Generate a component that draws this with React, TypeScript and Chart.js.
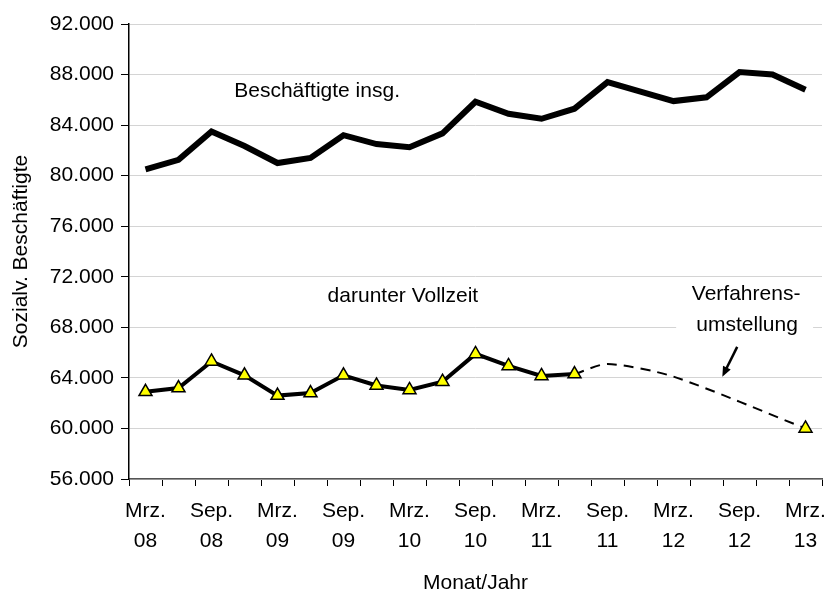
import React, { useEffect, useRef } from "react";
import { Chart, registerables } from "chart.js";

Chart.register(...registerables);

const categories = [
  "Mrz. 08", "Jun. 08", "Sep. 08", "Dez. 08",
  "Mrz. 09", "Jun. 09", "Sep. 09", "Dez. 09",
  "Mrz. 10", "Jun. 10", "Sep. 10", "Dez. 10",
  "Mrz. 11", "Jun. 11", "Sep. 11", "Dez. 11",
  "Mrz. 12", "Jun. 12", "Sep. 12", "Dez. 12",
  "Mrz. 13",
];

const beschaeftigteInsg = [
  80500, 81250, 83500, 82350, 81000, 81400, 83200, 82500, 82250, 83350,
  85850, 84900, 84500, 85300, 87400, 86650, 85900, 86200, 88200, 88000, 86800,
];

const vollzeit = [
  62900, 63200, 65300, 64200, 62600, 62800, 64200, 63400, 63050, 63700,
  65900, 64950, 64150, 64300, null, null, null, null, null, null, null,
];

const vollzeitUmstellung = [
  null, null, null, null, null, null, null, null, null, null,
  null, null, null, 64300, 65100, null, 64100, null, null, null, 60000,
];

const yTicks = { min: 56000, max: 92000, step: 4000 };

const FONT = "'Liberation Sans', Arial, sans-serif";

function formatDE(v: number): string {
  const s = Math.round(v).toString();
  return s.replace(/\B(?=(\d{3})+(?!\d))/g, ".");
}

const annotationPlugin = {
  id: "annotations",
  beforeDatasetsDraw(chart: any) {
    const { ctx } = chart;
    const xs = chart.scales.x;
    const ys = chart.scales.y;
    ctx.save();
    // white box behind "Verfahrens-umstellung"
    const bx1 = xs.getPixelForValue(16.08);
    const bx2 = xs.getPixelForValue(20.23);
    const by1 = ys.getPixelForValue(71.8e3);
    const by2 = ys.getPixelForValue(67.4e3);
    ctx.fillStyle = "#ffffff";
    ctx.fillRect(bx1, by1, bx2 - bx1, by2 - by1);

    ctx.fillStyle = "#000000";
    ctx.font = `21px ${FONT}`;
    ctx.textAlign = "center";
    ctx.textBaseline = "middle";
    ctx.fillText("Beschäftigte insg.", xs.getPixelForValue(5.2), ys.getPixelForValue(86700));
    ctx.fillText("darunter Vollzeit", xs.getPixelForValue(7.8), ys.getPixelForValue(70500));
    ctx.fillText("Verfahrens-", xs.getPixelForValue(18.2), ys.getPixelForValue(70600));
    ctx.fillText("umstellung", xs.getPixelForValue(18.23), ys.getPixelForValue(68150));
    ctx.restore();
  },
  afterDatasetsDraw(chart: any) {
    const { ctx } = chart;
    const xs = chart.scales.x;
    const ys = chart.scales.y;
    const x1 = xs.getPixelForValue(17.93);
    const y1 = ys.getPixelForValue(66450);
    const x2 = xs.getPixelForValue(17.48);
    const y2 = ys.getPixelForValue(64100);
    const ang = Math.atan2(y2 - y1, x2 - x1);
    const head = 11;
    ctx.save();
    ctx.strokeStyle = "#000";
    ctx.fillStyle = "#000";
    ctx.lineWidth = 2.5;
    ctx.beginPath();
    ctx.moveTo(x1, y1);
    ctx.lineTo(x2 - Math.cos(ang) * head * 0.7, y2 - Math.sin(ang) * head * 0.7);
    ctx.stroke();
    ctx.beginPath();
    ctx.moveTo(x2, y2);
    ctx.lineTo(x2 - head * Math.cos(ang - 0.4), y2 - head * Math.sin(ang - 0.4));
    ctx.lineTo(x2 - head * Math.cos(ang + 0.4), y2 - head * Math.sin(ang + 0.4));
    ctx.closePath();
    ctx.fill();
    ctx.restore();
  },
};

export default function App() {
  const ref = useRef<HTMLCanvasElement | null>(null);

  useEffect(() => {
    document.body.style.margin = "0";
    const canvas = ref.current;
    if (!canvas) return;
    const chart = new Chart(canvas, {
      type: "line",
      data: {
        labels: categories,
        datasets: [
          {
            label: "darunter Vollzeit",
            data: vollzeit,
            borderColor: "#000000",
            borderWidth: 4,
            pointStyle: "triangle",
            pointRadius: 7.5,
            pointBackgroundColor: "#ffff00",
            pointBorderColor: "#000000",
            pointBorderWidth: 1.5,
            tension: 0,
            spanGaps: false,
          },
          {
            label: "Verfahrensumstellung",
            data: vollzeitUmstellung,
            borderColor: "#000000",
            borderWidth: 2,
            borderDash: [10, 7],
            pointStyle: "triangle",
            pointRadius: vollzeitUmstellung.map((_, i) => (i === vollzeitUmstellung.length - 1 ? 7.5 : 0)),
            pointBackgroundColor: "#ffff00",
            pointBorderColor: "#000000",
            pointBorderWidth: 1.5,
            tension: 0.25,
            spanGaps: true,
          },
          {
            label: "Beschäftigte insg.",
            data: beschaeftigteInsg,
            borderColor: "#000000",
            borderWidth: 6,
            pointRadius: 0,
            tension: 0,
            borderJoinStyle: "miter",
          },
        ],
      },
      options: {
        responsive: false,
        animation: false,
        devicePixelRatio: 1,
        layout: { autoPadding: false, padding: { left: 0, right: 5, top: 24, bottom: 0 } },
        plugins: {
          legend: { display: false },
          tooltip: { enabled: false },
        },
        scales: {
          x: {
            type: "category",
            offset: true,
            grid: {
              display: true,
              drawOnChartArea: false,
              drawTicks: true,
              tickLength: 7,
              tickColor: "#000000",
              offset: true,
            },
            border: { display: true, color: "#555555", width: 1.5 },
            ticks: {
              autoSkip: false,
              maxRotation: 0,
              minRotation: 0,
              padding: 10,
              color: "#000000",
              font: { family: FONT, size: 21, lineHeight: 1.43 },
              callback: (_v: any, i: number) => (i % 2 === 0 ? categories[i].split(" ") : ""),
            },
            title: {
              display: true,
              text: "Monat/Jahr",
              color: "#000000",
              font: { family: FONT, size: 21 },
              padding: { top: 0, bottom: -4 },
            },
            afterFit: (scale: any) => {
              scale.height = 592 - 479;
              scale.paddingLeft = 0;
              scale.paddingRight = 0;
            },
          },
          y: {
            min: yTicks.min,
            max: yTicks.max,
            grid: {
              color: "#d4d4d4",
              lineWidth: 1,
              tickLength: 8,
              tickColor: "#000000",
              drawTicks: true,
            },
            border: { display: true, color: "#000000", width: 1.5 },
            ticks: {
              stepSize: yTicks.step,
              padding: 7,
              color: "#000000",
              font: { family: FONT, size: 21 },
              callback: (v: any) => formatDE(Number(v)),
            },
            title: {
              display: true,
              text: "Sozialv. Beschäftigte",
              color: "#000000",
              font: { family: FONT, size: 21 },
              padding: { top: 9, bottom: 0 },
            },
            afterFit: (scale: any) => {
              scale.width = 129;
            },
          },
        },
      },
      plugins: [annotationPlugin],
    });
    return () => chart.destroy();
  }, []);

  return (
    <div style={{ width: 827, height: 592 }}>
      <canvas ref={ref} width={827} height={592} style={{ display: "block" }} />
    </div>
  );
}
